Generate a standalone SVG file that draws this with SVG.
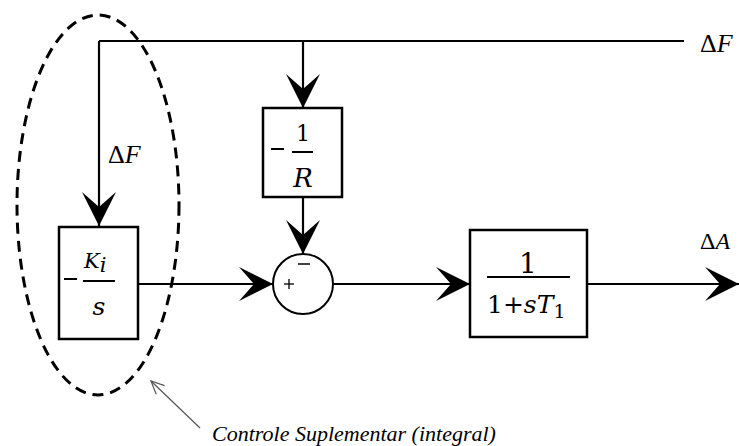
<svg xmlns="http://www.w3.org/2000/svg" width="739" height="446" viewBox="0 0 739 446">
<style>
.ln{fill:none;stroke:#000;stroke-width:2.2}
.box{fill:#fff;stroke:#000;stroke-width:2.5}
.m{fill:#000;font-family:"DejaVu Serif",serif}
.t{fill:#000;font-family:"Liberation Serif","Times New Roman",serif}
.it{font-style:italic}
.bar{stroke:#000;stroke-width:2}
</style>
<defs>
<marker id="ah" markerUnits="userSpaceOnUse" viewBox="-36 -18 38 36" markerWidth="38" markerHeight="36" refX="0" refY="0" orient="auto">
<path d="M0,0 L-34,-17 L-19,0 L-34,17 Z" fill="#000"/>
</marker>
<marker id="oa" markerUnits="userSpaceOnUse" viewBox="-16 -8 18 16" markerWidth="18" markerHeight="16" refX="0" refY="0" orient="auto">
<path d="M-13,-6 L0,0 L-13,6" fill="none" stroke="#555" stroke-width="1.2"/>
</marker>
</defs>
<rect width="739" height="446" fill="#fff"/>
<g id="connectors">
<path class="ln" d="M99,41 H684"/>
<path class="ln" d="M99,41 V226" marker-end="url(#ah)"/>
<path class="ln" d="M303,41 V108" marker-end="url(#ah)"/>
<path class="ln" d="M303,197 V254" marker-end="url(#ah)"/>
<path class="ln" d="M138,284 H273" marker-end="url(#ah)"/>
<path class="ln" d="M333,284 H470" marker-end="url(#ah)"/>
<path class="ln" d="M587,284 H739" marker-end="url(#ah)"/>
</g>
<g id="ellipse">
<ellipse cx="98" cy="205" rx="81" ry="190" fill="none" stroke="#000" stroke-width="3" stroke-dasharray="11 7"/>
</g>
<g id="node-R">
<rect class="box" x="263" y="108" width="79" height="89"/>
<line class="bar" x1="271" y1="149" x2="284" y2="149"/>
<text class="m" x="303" y="141" font-size="22" text-anchor="middle">1</text>
<line class="bar" x1="292" y1="152" x2="313" y2="152"/>
<text class="m it" x="303" y="187" font-size="26" text-anchor="middle">R</text>
</g>
<g id="node-Ki">
<rect class="box" x="59" y="227" width="79" height="112"/>
<line class="bar" x1="64" y1="279" x2="77" y2="279"/>
<text class="m it" x="84" y="268" font-size="21">K<tspan font-size="21" dy="4">i</tspan></text>
<line class="bar" x1="83" y1="281" x2="115" y2="281"/>
<text class="m it" x="99" y="315" font-size="25" text-anchor="middle">s</text>
</g>
<g id="node-sum">
<circle cx="303" cy="284" r="30" fill="#fff" stroke="#000" stroke-width="2"/>
<line x1="298" y1="264" x2="310" y2="264" stroke="#000" stroke-width="1.5"/>
<line x1="284" y1="284" x2="294" y2="284" stroke="#000" stroke-width="1.3"/>
<line x1="289" y1="279" x2="289" y2="289" stroke="#000" stroke-width="1.3"/>
</g>
<g id="node-T1">
<rect class="box" x="470" y="230" width="117" height="107"/>
<text class="m" x="528" y="273" font-size="28" text-anchor="middle">1</text>
<line class="bar" x1="487" y1="277" x2="570" y2="277"/>
<text class="m" x="487" y="313" font-size="25">1+<tspan class="it">sT</tspan><tspan font-size="19" dy="5">1</tspan></text>
</g>
<g id="labels">
<text class="t" x="700" y="52" font-size="26">Δ<tspan class="it">F</tspan></text>
<text class="t" x="108" y="163" font-size="26">Δ<tspan class="it">F</tspan></text>
<text class="t" x="700" y="249" font-size="24">Δ<tspan class="it">A</tspan></text>
<text class="t it" x="212" y="441" font-size="22">Controle Suplementar (integral)</text>
</g>
<g id="annotation">
<line x1="200" y1="428" x2="151" y2="381" stroke="#555" stroke-width="1.2" marker-end="url(#oa)"/>
</g>
</svg>
